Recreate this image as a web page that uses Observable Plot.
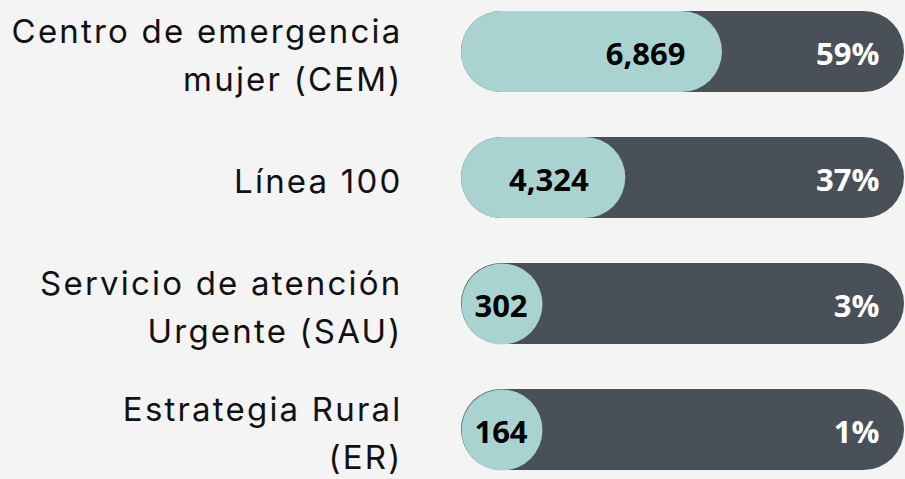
<!DOCTYPE html>
<html>
<head>
<meta charset="utf-8">
<script src="https://cdn.jsdelivr.net/npm/d3@7"></script>
<script src="https://cdn.jsdelivr.net/npm/@observablehq/plot@0.6"></script>
<style>
  html, body { margin: 0; padding: 0; background: #f4f4f4; }
  #chart svg { display: block; }
  #chart g.cat-labels text { letter-spacing: 2.2px; }
</style>
</head>
<body>
<div id="chart"></div>
<script>
const categories = [
  "Centro de emergencia\nmujer (CEM)",
  "Línea 100",
  "Servicio de atención\nUrgente (SAU)",
  "Estrategia Rural\n(ER)"
];
const values = [6869, 4324, 302, 164];
const percentLabels = ["59%", "37%", "3%", "1%"];

const total = d3.sum(values);
const data = categories.map((c, i) => ({
  category: c,
  value: values[i],
  total: total,
  pct: percentLabels[i],
  share: values[i] / total
}));

const teal = "#a8d3d0";
const dark = "#4a5058";
const capR = 40.5;
const wide = d => d.share >= 0.2;

const chart = Plot.plot({
  width: 905,
  height: 479,
  marginLeft: 461,
  marginRight: 1,
  marginTop: 10,
  marginBottom: 9,
  style: { background: "#f4f4f4", overflow: "visible" },
  x: { domain: [0, total], axis: null },
  y: { domain: categories, axis: null, paddingInner: 0.359, paddingOuter: 0 },
  marks: [
    Plot.barX(data, { y: "category", x1: 0, x2: "total", fill: dark, rx: capR }),
    Plot.barX(data.filter(wide), { y: "category", x1: 0, x2: "value", fill: teal, rx: capR }),
    Plot.dot(data.filter(d => !wide(d)), { y: "category", x: () => 0, r: capR, dx: capR, fill: teal, stroke: null }),
    Plot.text(data.filter(wide), {
      y: "category", x: "value", text: d => d3.format(",")(d.value),
      textAnchor: "end", dx: -37, dy: 3,
      fill: "#000", fontSize: 31, fontWeight: "bold", fontFamily: "Open Sans"
    }),
    Plot.text(data.filter(d => !wide(d)), {
      y: "category", x: () => 0, text: d => d3.format(",")(d.value),
      textAnchor: "middle", dx: capR - 1, dy: 3,
      fill: "#000", fontSize: 31, fontWeight: "bold", fontFamily: "Open Sans"
    }),
    Plot.text(data, {
      y: "category", x: "total", text: "pct",
      textAnchor: "end", dx: -25, dy: 3,
      fill: "#fff", fontSize: 31, fontWeight: "bold", fontFamily: "Open Sans"
    }),
    Plot.text(data, {
      y: "category", frameAnchor: "left", text: "category",
      textAnchor: "end", dx: -59, lineHeight: 1.45,
      fill: "#111", fontSize: 33, fontFamily: "Inter"
    })
  ]
});
const textGroups = chart.querySelectorAll('g[aria-label="text"]');
textGroups[textGroups.length - 1].classList.add("cat-labels");
document.getElementById("chart").append(chart);
</script>
</body>
</html>
